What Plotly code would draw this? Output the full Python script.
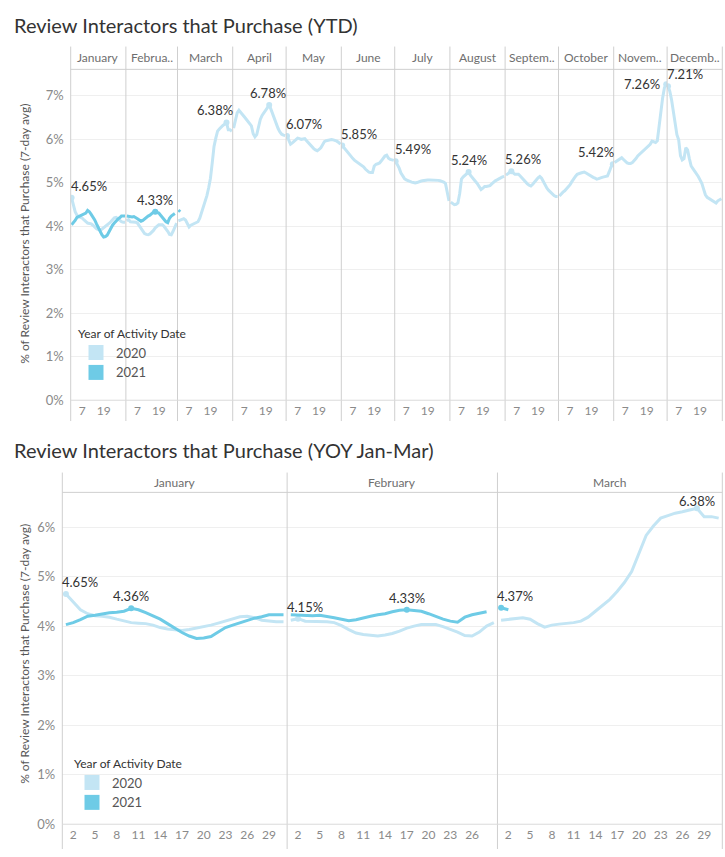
import plotly.graph_objects as go

# ---- data (7-day avg % of review interactors that purchase) ----
days_in_month = [31, 29, 31, 30, 31, 30, 31, 31, 30, 31, 30, 31]
ytd_headers = ["January", "Februa..", "March", "April", "May", "June", "July",
               "August", "Septem..", "October", "Novem..", "Decemb.."]
yoy_headers = ["January", "February", "March"]

pct_2020_jan = [4.65, 4.50, 4.33, 4.25, 4.21, 4.20, 4.18, 4.14, 4.10, 4.07, 4.06, 4.05, 4.02, 3.97, 3.94, 3.92,
                3.91, 3.93, 3.96, 3.98, 4.02, 4.06, 4.10, 4.15, 4.19, 4.20, 4.17, 4.12, 4.10, 4.09, 4.09]
pct_2020_feb = [4.12, 4.15, 4.10, 4.10, 4.10, 4.09, 4.07, 4.01, 3.93, 3.86, 3.83, 3.81, 3.80, 3.82, 3.85,
                3.90, 3.96, 4.00, 4.03, 4.03, 4.03, 3.99, 3.94, 3.88, 3.81, 3.80, 3.88, 4.00, 4.07]
pct_2020_mar = [4.12, 4.14, 4.16, 4.17, 4.14, 4.05, 3.98, 4.02, 4.04, 4.05, 4.07, 4.10, 4.18, 4.30, 4.42, 4.54,
                4.70, 4.88, 5.10, 5.45, 5.83, 6.02, 6.18, 6.23, 6.28, 6.31, 6.34, 6.38, 6.21, 6.21, 6.18]
pct_2020_apr = [6.25, 6.40, 6.60, 6.66, 6.60, 6.56, 6.51, 6.46, 6.41, 6.36, 6.30, 6.12, 6.05, 6.10, 6.30,
                6.45, 6.54, 6.60, 6.63, 6.70, 6.78, 6.68, 6.56, 6.43, 6.33, 6.24, 6.16, 6.11, 6.09, 6.08]
pct_2020_may = [6.07, 5.97, 5.88, 5.91, 5.95, 5.99, 6.02, 6.01, 5.99, 6.00, 6.01, 5.96, 5.91, 5.86, 5.81, 5.78,
                5.75, 5.73, 5.76, 5.80, 5.87, 5.94, 5.96, 5.97, 5.98, 5.99, 5.98, 5.97, 5.95, 5.92, 5.88]
pct_2020_jun = [5.85, 5.80, 5.75, 5.69, 5.63, 5.58, 5.55, 5.51, 5.48, 5.46, 5.43, 5.41, 5.36, 5.31, 5.27,
                5.24, 5.23, 5.23, 5.38, 5.42, 5.43, 5.45, 5.50, 5.55, 5.61, 5.63, 5.56, 5.53, 5.52, 5.51]
pct_2020_jul = [5.49, 5.42, 5.33, 5.22, 5.14, 5.09, 5.06, 5.04, 5.02, 5.01, 5.00, 4.99, 5.00, 5.02, 5.03, 5.04,
                5.05, 5.06, 5.06, 5.06, 5.06, 5.06, 5.06, 5.06, 5.05, 5.04, 5.03, 5.01, 4.98, 4.80, 4.58]
pct_2020_aug = [4.55, 4.51, 4.49, 4.50, 4.53, 4.75, 5.08, 5.13, 5.17, 5.21, 5.24, 5.17, 5.11, 5.06, 5.02, 4.97,
                4.90, 4.84, 4.87, 4.91, 4.91, 4.92, 4.93, 4.97, 5.01, 5.04, 5.06, 5.09, 5.11, 5.13, 5.14]
pct_2020_sep = [5.17, 5.20, 5.23, 5.26, 5.22, 5.19, 5.19, 5.19, 5.15, 5.10, 5.05, 5.01, 4.97, 4.94, 4.92,
                4.96, 5.00, 5.06, 5.11, 5.14, 5.10, 5.02, 4.94, 4.87, 4.82, 4.78, 4.73, 4.70, 4.68, 4.68]
pct_2020_oct = [4.69, 4.74, 4.78, 4.81, 4.85, 4.89, 4.95, 5.02, 5.09, 5.14, 5.19, 5.21, 5.22, 5.23, 5.24, 5.22,
                5.19, 5.16, 5.14, 5.12, 5.10, 5.08, 5.09, 5.11, 5.12, 5.13, 5.14, 5.15, 5.25, 5.36, 5.42]
pct_2020_nov = [5.46, 5.49, 5.52, 5.55, 5.57, 5.53, 5.48, 5.45, 5.44, 5.44, 5.46, 5.50, 5.55, 5.61, 5.65,
                5.69, 5.72, 5.75, 5.79, 5.84, 5.88, 5.95, 5.94, 5.92, 5.96, 6.30, 6.70, 6.95, 7.18, 7.26]
pct_2020_dec = [7.21, 7.10, 6.90, 6.65, 6.30, 6.10, 5.98, 5.62, 5.52, 5.55, 5.80, 5.75, 5.55, 5.38, 5.32, 5.26,
                5.22, 5.14, 5.06, 4.98, 4.85, 4.72, 4.66, 4.63, 4.60, 4.58, 4.55, 4.53, 4.58, 4.61, 4.63]

pct_2021_jan = [4.03, 4.07, 4.13, 4.20, 4.22, 4.25, 4.27, 4.28, 4.30, 4.36, 4.33, 4.27, 4.21, 4.14, 4.05, 3.96,
                3.87, 3.80, 3.75, 3.76, 3.79, 3.88, 3.97, 4.02, 4.07, 4.12, 4.16, 4.19, 4.23, 4.23, 4.23]
pct_2021_feb = [4.23, 4.22, 4.21, 4.21, 4.22, 4.20, 4.17, 4.14, 4.11, 4.13, 4.17, 4.20, 4.23, 4.25,
                4.29, 4.32, 4.33, 4.32, 4.30, 4.25, 4.19, 4.14, 4.10, 4.08, 4.18, 4.23, 4.26, 4.29]
pct_2021_mar = [4.37, 4.33]

series_2020 = [pct_2020_jan, pct_2020_feb, pct_2020_mar, pct_2020_apr, pct_2020_may, pct_2020_jun,
               pct_2020_jul, pct_2020_aug, pct_2020_sep, pct_2020_oct, pct_2020_nov, pct_2020_dec]
series_2021 = [pct_2021_jan, pct_2021_feb, pct_2021_mar]

ytd_day_ticks = [7, 19]
yoy_day_ticks = [2, 5, 8, 11, 14, 17, 20, 23, 26, 29]
ytd_pct_ticks = [0, 1, 2, 3, 4, 5, 6, 7]
yoy_pct_ticks = [0, 1, 2, 3, 4, 5, 6]

# which month maxima get a label (Tableau hides the overlapping ones on the YTD view)
ytd_labels = [(0, 2020), (1, 2021), (2, 2020), (3, 2020), (4, 2020), (5, 2020), (6, 2020),
              (7, 2020), (8, 2020), (9, 2020), (10, 2020), (11, 2020)]
yoy_labels = [(0, 2020), (0, 2021), (1, 2020), (1, 2021), (2, 2020), (2, 2021)]

# ---- styling ----
W, H = 725, 857
LIGHT = "#c3e5f4"
DARK = "#6ecbe6"
FONT = "Lato, 'Open Sans', sans-serif"
GRID = "#efefef"
RULE = "#cfcfcf"


def fx(px):
    return px / W


def fy(py):
    return 1 - py / H


fig = go.Figure()
layout = {}
shapes = []
annotations = []


def build_panel(first_x, ynum, headers, ticks, left, right, head_top, top, zero, rule_bottom,
                ymax, pct_ticks, labels, tweaks, legend_id, legend_pos, title, title_y, ytitle_y):
    ndays = days_in_month[:len(headers)]
    edges = [left]
    for n in ndays:
        edges.append(edges[-1] + (right - left) * n / sum(ndays))
    yname = "y" if ynum == 1 else f"y{ynum}"
    layout["yaxis" if ynum == 1 else f"yaxis{ynum}"] = dict(
        domain=[fy(zero), fy(top)], range=[0, ymax], anchor="x" if first_x == 1 else f"x{first_x}",
        tickvals=pct_ticks, ticktext=[f"{t}%" for t in pct_ticks], showgrid=True, gridcolor=GRID,
        zeroline=False, showline=False, ticks="", ticklabelstandoff=6,
        tickfont=dict(size=13, color="#8a8a8a"))

    for i, n in enumerate(ndays):
        k = first_x + i
        xname = "x" if k == 1 else f"x{k}"
        layout["xaxis" if k == 1 else f"xaxis{k}"] = dict(
            domain=[fx(edges[i]), fx(edges[i + 1])], range=[0.5, n + 0.5], anchor=yname,
            tickvals=[t for t in ticks if t <= n - 2], showgrid=False, zeroline=False,
            showline=False, ticks="", ticklabelstandoff=2, tickfont=dict(size=12, color="#8a8a8a"))
        annotations.append(dict(x=fx((edges[i] + edges[i + 1]) / 2), y=fy((head_top + top) / 2),
                                xref="paper", yref="paper", xanchor="center", yanchor="middle",
                                text=headers[i], showarrow=False,
                                font=dict(size=12, color="#6e6e6e", family=FONT)))
        for year, color, data in ((2020, LIGHT, series_2020), (2021, DARK, series_2021)):
            if i >= len(data):
                continue
            vals = data[i]
            days = list(range(1, len(vals) + 1))
            fig.add_trace(go.Scatter(x=days, y=vals, xaxis=xname, yaxis=yname, mode="lines",
                                     line=dict(color=color, width=3), showlegend=False, hoverinfo="skip"))
            if (i, year) in labels:
                v = max(vals)
                d = days[vals.index(v)]
                fig.add_trace(go.Scatter(x=[d], y=[v], xaxis=xname, yaxis=yname, mode="markers",
                                         marker=dict(color=color, size=6), showlegend=False,
                                         hoverinfo="skip"))
                px = edges[i] + (d - 0.5) * (edges[i + 1] - edges[i]) / n
                half = 18
                shift = 0
                if px - half < edges[i]:
                    shift = edges[i] + half - px
                elif px + half > edges[i + 1]:
                    shift = edges[i + 1] - half - px
                ann = dict(x=d, y=v, xref=xname, yref=yname, text=f"{v:.2f}%", showarrow=False,
                           xanchor="center", yanchor="middle", xshift=shift, yshift=12,
                           font=dict(size=13, color="#333333", family=FONT))
                ann.update(tweaks.get((i, year), {}))
                annotations.append(ann)

    # pane dividers, header rule and zero rule
    for e in edges:
        shapes.append(dict(type="line", xref="paper", yref="paper", x0=fx(e), x1=fx(e),
                           y0=fy(head_top), y1=fy(rule_bottom), line=dict(color=RULE, width=1)))
    shapes.append(dict(type="line", xref="paper", yref="paper", x0=fx(edges[0]), x1=fx(edges[-1]),
                       y0=fy(top), y1=fy(top), line=dict(color=RULE, width=1)))
    shapes.append(dict(type="line", xref="paper", yref="paper", x0=fx(edges[0]), x1=fx(edges[-1]),
                       y0=fy(zero), y1=fy(zero), line=dict(color="#dadada", width=1)))

    annotations.append(dict(x=fx(12), y=fy(title_y), xref="paper", yref="paper", xanchor="left",
                            yanchor="middle", text=title, showarrow=False,
                            font=dict(size=20, color="#333333", family=FONT)))
    annotations.append(dict(x=fx(25), y=fy(ytitle_y), xref="paper", yref="paper", textangle=-90,
                            xanchor="center", yanchor="middle",
                            text="% of Review Interactors that Purchase (7-day avg)", showarrow=False,
                            font=dict(size=12, color="#555555", family=FONT)))

    for year, color in ((2020, LIGHT), (2021, DARK)):
        fig.add_trace(go.Scatter(x=[None], y=[None], xaxis="x" if first_x == 1 else f"x{first_x}",
                                 yaxis=yname, mode="markers", name=str(year), legend=legend_id,
                                 marker=dict(symbol="square", size=15, color=color)))
    layout[legend_id] = dict(x=fx(legend_pos[0]), y=fy(legend_pos[1]), xanchor="left", yanchor="top",
                             bgcolor="rgba(0,0,0,0)", tracegroupgap=0,
                             title=dict(text="Year of Activity Date",
                                        font=dict(size=12, color="#333333", family=FONT)),
                             font=dict(size=13, color="#555555", family=FONT))


build_panel(1, 1, ytd_headers, ytd_day_ticks, 70.7, 722.3, 47, 70, 404, 425, 7.6, ytd_pct_ticks,
            ytd_labels, {(10, 2020): dict(xanchor="right", xshift=-4, yshift=0)},
            "legend", (76, 325), "Review Interactors that Purchase (YTD)", 25, 236)
build_panel(13, 2, yoy_headers, yoy_day_ticks, 62.3, 722.3, 477, 497, 832, 857, 6.7, yoy_pct_ticks,
            yoy_labels, {(2, 2020): dict(yshift=7)},
            "legend2", (72, 759), "Review Interactors that Purchase (YOY Jan-Mar)", 454, 660)

fig.update_layout(**layout)
fig.update_layout(width=W, height=H, autosize=False, margin=dict(l=0, r=0, t=0, b=0),
                  plot_bgcolor="white", paper_bgcolor="white", hovermode=False,
                  font=dict(family=FONT), shapes=shapes, annotations=annotations)
fig.write_html("out.html", config={"displayModeBar": False},
               post_script="document.body.style.margin = '0';")
